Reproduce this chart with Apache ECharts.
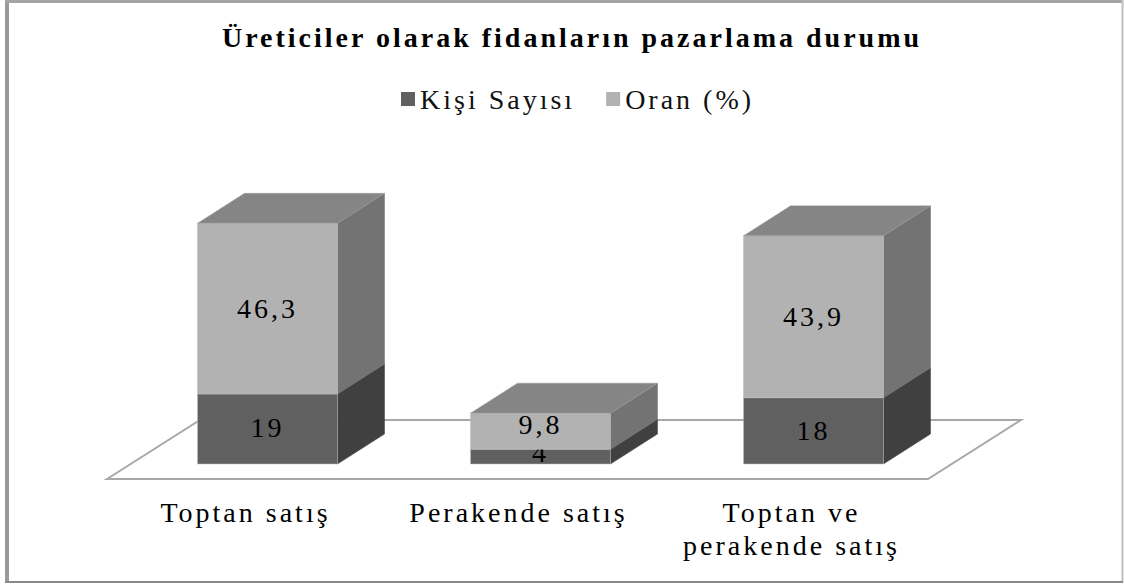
<!DOCTYPE html>
<html>
<head>
<meta charset="utf-8">
<style>
html, body { margin: 0; padding: 0; background: #fff; }
#main { width: 1124px; height: 586px; }
/* the source picture is stretched sideways, so the serif text runs wide */
#main svg text { letter-spacing: 3px; }
</style>
<script src="https://cdn.jsdelivr.net/npm/echarts@6/dist/echarts.min.js"></script>
</head>
<body>
<div id="main"></div>
<script>
var categories = ["Toptan satış", "Perakende satış", "Toptan ve\nperakende satış"];
var kisiSayisi = [19, 4, 18];
var oran = [46.3, 9.8, 43.9];
var legendNames = ["Kişi Sayısı", "Oran (%)"];
var fontName = '"Liberation Serif", serif';

var barWidth = 140, depthX = 47, depthY = 30;

// one stacked box segment, drawn from the axes
function boxItem(base, values, front, side, roof, nudge) {
  return function (params, api) {
    var i = api.value(0);
    var low = base ? base[i] : 0;
    var high = low + values[i];
    var a = api.coord([i, low]);
    var b = api.coord([i, high]);
    var x0 = a[0] - barWidth / 2, x1 = a[0] + barWidth / 2;
    var kids = [
      { type: "polygon", shape: { points: [[x1, a[1]], [x1 + depthX, a[1] - depthY], [x1 + depthX, b[1] - depthY], [x1, b[1]]] },
        style: { fill: side, stroke: side, lineWidth: 0.5 } },
      { type: "rect", shape: { x: x0, y: b[1], width: barWidth, height: a[1] - b[1] },
        style: { fill: front, stroke: "#bdbdbd", lineWidth: 0.5 } }
    ];
    if (roof) {
      kids.push({ type: "polygon", shape: { points: [[x0, b[1]], [x0 + depthX, b[1] - depthY], [x1 + depthX, b[1] - depthY], [x1, b[1]]] },
        style: { fill: roof, stroke: "#a0a0a0", lineWidth: 0.5 } });
    }
    kids.push({ type: "text", x: a[0], y: (a[1] + b[1]) / 2 + (nudge ? nudge[i] : 0),
      style: { text: String(values[i]).replace(".", ","), fill: "#000", font: '28px ' + fontName, textAlign: "center", textVerticalAlign: "middle" } });
    return { type: "group", children: kids };
  };
}

var chart = echarts.init(document.getElementById("main"), null, { renderer: "svg" });
chart.setOption({
  animation: false,
  backgroundColor: "#fff",
  title: {
    text: "Üreticiler olarak fidanların pazarlama durumu",
    left: 567, top: 18, textAlign: "center",
    textStyle: { fontFamily: fontName, fontWeight: "bold", fontSize: 28, color: "#000" }
  },
  legend: {
    data: legendNames, left: 396, top: 80, itemWidth: 14, itemHeight: 14, itemGap: 64,
    icon: "rect",
    textStyle: { fontFamily: fontName, fontSize: 28, color: "#111" }
  },
  grid: { left: 131, width: 819, top: 206, height: 258 },
  xAxis: {
    type: "category", data: categories,
    axisLine: { show: false }, axisTick: { show: false },
    axisLabel: { fontFamily: fontName, fontSize: 28, color: "#000", margin: 32, lineHeight: 33, interval: 0, padding: [0, 44, 0, 0] }
  },
  yAxis: { type: "value", min: 0, max: 70, show: false },
  graphic: [
    { type: "line", shape: { x1: 7, y1: 0, x2: 7, y2: 583 }, style: { stroke: "#9a9a9a", lineWidth: 4 }, z: 0 },
    { type: "line", shape: { x1: 5, y1: 1.5, x2: 1123, y2: 1.5 }, style: { stroke: "#a4a4a4", lineWidth: 3 }, z: 0 },
    { type: "line", shape: { x1: 1122.5, y1: 0, x2: 1122.5, y2: 583 }, style: { stroke: "#c0c0c0", lineWidth: 2 }, z: 0 },
    { type: "line", shape: { x1: 5, y1: 582, x2: 1123, y2: 582 }, style: { stroke: "#8a8a8a", lineWidth: 2 }, z: 0 },
    { type: "polygon", shape: { points: [[107, 479], [200, 420], [1021, 420], [928, 479]] }, style: { fill: "#fff", stroke: "#a8a8a8", lineWidth: 2 }, z: 0 }
  ],
  series: [
    { type: "custom", name: legendNames[0], data: [0, 1, 2], itemStyle: { color: "#606060" }, z: 3,
      renderItem: boxItem(null, kisiSayisi, "#606060", "#404040", null, [-1, -4, 0]) },
    { type: "custom", name: legendNames[1], data: [0, 1, 2], itemStyle: { color: "#b2b2b2" }, z: 4,
      renderItem: boxItem(kisiSayisi, oran, "#b2b2b2", "#737373", "#858585", [0, -7, 0]) }
  ]
});
</script>
</body>
</html>
